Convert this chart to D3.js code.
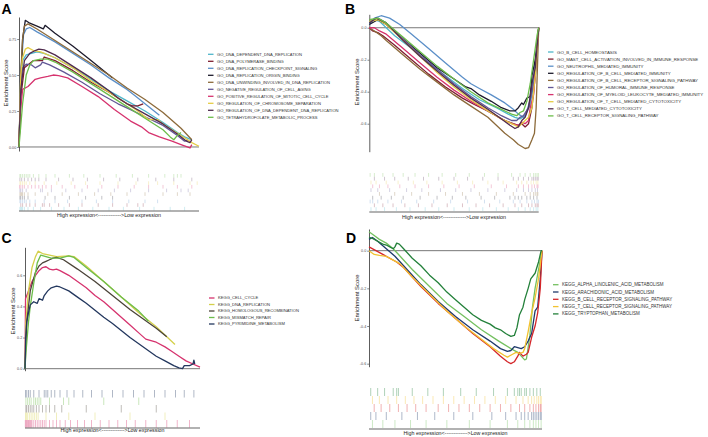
<!DOCTYPE html>
<html lang="en">
  <head>
    <meta charset="UTF-8" />
    <title>GSEA enrichment plots</title>
    <style>
      body { margin: 0; background: #fff; }
      svg { font-family: "Liberation Sans", Arial, sans-serif; }
      .zero { stroke: #555; stroke-width: 0.8; }
      .base { stroke: #222; stroke-width: 0.7; }
      .es { fill: none; stroke-width: 1.3; stroke-linejoin: round; }
      .ytitle { font-size: 5.9px; fill: #222; text-anchor: middle; }
      .xlabel { font-size: 5.3px; fill: #222; text-anchor: middle; }
      .letter { font-size: 14px; font-weight: bold; fill: #000; }
      .legend text { fill: #333; }
    </style>
  </head>
  <body>
    <svg width="708" height="437"></svg>
    <script src="https://d3js.org/d3.v7.min.js"></script>
    <script>
      const svg = d3.select("svg");
      const xDomain = [0, 100]; // gene rank, percent of list

      // ---------- panel A ----------
      const setsA = [
        "GO_DNA_DEPENDENT_DNA_REPLICATION",
        "GO_DNA_POLYMERASE_BINDING",
        "GO_DNA_REPLICATION_CHECKPOINT_SIGNALING",
        "GO_DNA_REPLICATION_ORIGIN_BINDING",
        "GO_DNA_UNWINDING_INVOLVED_IN_DNA_REPLICATION",
        "GO_NEGATIVE_REGULATION_OF_CELL_AGING",
        "GO_POSITIVE_REGULATION_OF_MITOTIC_CELL_CYCLE",
        "GO_REGULATION_OF_CHROMOSOME_SEPARATION",
        "GO_REGULATION_OF_DNA_DEPENDENT_DNA_REPLICATION",
        "GO_TETRAHYDROFOLATE_METABOLIC_PROCESS",
      ];
      const ticksA = [0, 0.25, 0.5, 0.75];
      const esA = [
        [[0,0],[1,0.45],[2,0.6],[4,0.64],[7,0.65],[10,0.66],[14,0.65],[20,0.62],[30,0.55],[40,0.47],[50,0.39],[60,0.32],[70,0.25],[80,0.17],[88,0.1],[92,0.07],[96,0.05]],
        [[0,0],[1,0.35],[3,0.55],[8,0.6],[13,0.6],[14,0.625],[20,0.6],[30,0.53],[40,0.45],[50,0.38],[55,0.34],[60,0.3],[63,0.285],[66,0.285],[69,0.3]],
        [[0,0],[1,0.5],[2.5,0.78],[4,0.82],[6,0.83],[10,0.8],[20,0.73],[30,0.65],[40,0.57],[50,0.48],[60,0.4],[65,0.35],[70,0.3],[74,0.26],[78,0.22]],
        [[0,0],[1,0.45],[2,0.75],[3.5,0.88],[6,0.86],[10,0.84],[13.5,0.82],[14.5,0.845],[20,0.79],[30,0.7],[40,0.6],[52,0.48]],
        [[0,0],[1,0.5],[2,0.75],[3,0.84],[5,0.855],[10,0.82],[20,0.74],[30,0.66],[40,0.58],[50,0.5],[60,0.41],[70,0.33],[80,0.24],[90,0.13],[96,0.05]],
        [[0,0],[1,0.45],[2,0.55],[4,0.575],[7,0.57],[9,0.55],[12,0.57],[13,0.59],[17,0.57],[25,0.52],[35,0.45],[45,0.37],[55,0.3],[62,0.26],[70,0.21],[80,0.15],[88,0.08],[92,0.04],[94,0.05]],
        [[0,0],[0.5,0.2],[2,0.4],[5,0.42],[9,0.47],[12,0.48],[16,0.49],[19,0.5],[22,0.495],[27,0.48],[35,0.42],[44,0.35],[53,0.26],[62,0.18],[68,0.14],[72,0.1],[78,0.07],[85,0.04],[90,0.016],[95,-0.007],[96,0.016]],
        [[0,0],[1,0.5],[2,0.62],[3.5,0.68],[5,0.69],[8,0.67],[12,0.66],[20,0.62],[30,0.55],[40,0.46],[50,0.38],[60,0.3],[66,0.25],[70,0.21],[72,0.19],[77,0.19],[80,0.16],[90,0.08],[96,0.03],[100,0.005]],
        [[0,0],[1,0.4],[3,0.6],[6,0.65],[9,0.67],[11,0.68],[14,0.675],[20,0.64],[30,0.56],[40,0.48],[50,0.39],[55,0.34],[60,0.3],[70,0.23],[80,0.16],[88,0.09],[93,0.04],[95,0.03],[96,0.05]],
        [[0,0],[1,0.15],[2,0.3],[3,0.4],[4,0.5],[6,0.57],[8,0.6],[12,0.61],[16,0.61],[20,0.59],[30,0.52],[40,0.44],[50,0.36],[60,0.28],[70,0.2],[80,0.12],[84,0.07],[86,0.05],[88,0.08],[90,0.1]],
      ];
      const hitsA = [
        [0.5,1,1.5,2,3,5,8,12,18,25,33,41,50,58,67,75,84,92],
        [1,2,4,6,9,13,14,17,22,28,35,44,52,60,66,69],
        [0.5,1,2,3,4,6,9,14,20,27,35,43,52,61,70,77],
        [0.5,1,2,3,5,14.5,20,28,37,46,52],
        [0.5,1,1.5,2,3,5,9,16,24,33,42,51,60,70,80,88,95],
        [0.5,1,2,4,12,13,18,26,35,44,53,62,72,82,90,94],
        [0.3,1,2,3,5,7,9,11,13,15,18,24,31,38,46,55,64,72,80,88,96],
        [0.5,1,2,3,4,6,9,14,21,29,37,45,55,65,72,77,86,95,99],
        [0.5,1.5,3,5,7,9,11,15,22,30,38,47,56,66,76,86,96],
        [0.5,1,2,3,4,5,6,8,11,15,20,28,36,45,54,63,72,81,86,88,90],
      ];

      // ---------- panel B ----------
      const setsB = [
        "GO_B_CELL_HOMEOSTASIS",
        "GO_MAST_CELL_ACTIVATION_INVOLVED_IN_IMMUNE_RESPONSE",
        "GO_NEUTROPHIL_MEDIATED_IMMUNITY",
        "GO_REGULATION_OF_B_CELL_MEDIATED_IMMUNITY",
        "GO_REGULATION_OF_B_CELL_RECEPTOR_SIGNALING_PATHWAY",
        "GO_REGULATION_OF_HUMORAL_IMMUNE_RESPONSE",
        "GO_REGULATION_OF_MYELOID_LEUKOCYTE_MEDIATED_IMMUNITY",
        "GO_REGULATION_OF_T_CELL_MEDIATED_CYTOTOXICITY",
        "GO_T_CELL_MEDIATED_CYTOTOXICITY",
        "GO_T_CELL_RECEPTOR_SIGNALING_PATHWAY",
      ];
      const ticksB = [0, -0.2, -0.4, -0.6];
      const esB = [
        [[0,0.03],[3,0.05],[6,0.04],[10,0.0],[15,-0.05],[25,-0.13],[35,-0.22],[45,-0.3],[55,-0.38],[65,-0.45],[75,-0.5],[82,-0.54],[86,-0.56],[89,-0.57],[92,-0.55],[95,-0.48],[97,-0.35],[99,-0.15],[100,0]],
        [[0,0],[2,-0.02],[5,-0.03],[8,-0.05],[15,-0.11],[25,-0.2],[35,-0.29],[45,-0.37],[55,-0.44],[62,-0.48],[68,-0.51],[75,-0.55],[80,-0.58],[85,-0.6],[88,-0.61],[90,-0.6],[92,-0.62],[94,-0.6],[96,-0.5],[98,-0.3],[100,0]],
        [[0,0.02],[3,0.06],[7,0.075],[12,0.06],[18,0.02],[25,-0.04],[35,-0.13],[45,-0.22],[55,-0.31],[60,-0.35],[65,-0.38],[72,-0.42],[80,-0.47],[85,-0.51],[88,-0.54],[91,-0.56],[93,-0.52],[95,-0.45],[97,-0.3],[98.5,-0.15],[100,0]],
        [[0,0.02],[5,0.05],[10,0.02],[20,-0.07],[30,-0.16],[40,-0.25],[50,-0.32],[57,-0.37],[60,-0.38],[65,-0.42],[72,-0.46],[78,-0.5],[83,-0.52],[86,-0.52],[88,-0.5],[90,-0.47],[91,-0.48],[93,-0.44],[95,-0.43],[96,-0.3],[98,-0.2],[100,0]],
        [[0,0],[3,-0.02],[7,-0.05],[10,-0.08],[20,-0.17],[30,-0.26],[40,-0.34],[50,-0.42],[60,-0.49],[70,-0.56],[75,-0.61],[80,-0.66],[85,-0.7],[88,-0.73],[92,-0.755],[94,-0.75],[96,-0.7],[97.5,-0.66],[98.5,-0.5],[100,0]],
        [[0,0.04],[5,0.06],[10,0.03],[20,-0.07],[30,-0.17],[40,-0.26],[50,-0.35],[60,-0.43],[70,-0.5],[78,-0.55],[84,-0.58],[87,-0.58],[89,-0.56],[91,-0.55],[94,-0.5],[96,-0.4],[98,-0.3],[100,0]],
        [[0,0],[3,0],[6,-0.02],[10,-0.04],[20,-0.13],[30,-0.22],[40,-0.31],[50,-0.39],[60,-0.46],[70,-0.52],[78,-0.57],[84,-0.6],[88,-0.61],[90,-0.59],[92,-0.6],[94,-0.58],[95,-0.5],[97,-0.42],[98.5,-0.2],[100,0]],
        [[0,0.04],[5,0.05],[10,0.02],[20,-0.08],[30,-0.18],[40,-0.28],[50,-0.37],[60,-0.45],[70,-0.52],[78,-0.57],[84,-0.6],[88,-0.62],[90,-0.6],[92,-0.58],[94,-0.56],[96,-0.5],[98,-0.3],[100,0]],
        [[0,0.03],[4,0.06],[10,0.03],[20,-0.08],[30,-0.18],[40,-0.27],[50,-0.36],[60,-0.44],[70,-0.51],[78,-0.57],[83,-0.61],[86,-0.63],[88,-0.62],[90,-0.58],[92,-0.56],[94,-0.5],[96,-0.35],[98,-0.25],[100,0]],
        [[0,0.05],[5,0.06],[10,0.03],[20,-0.06],[30,-0.15],[40,-0.24],[50,-0.32],[60,-0.4],[70,-0.47],[78,-0.51],[84,-0.54],[87,-0.55],[89,-0.53],[91,-0.52],[93,-0.46],[95,-0.35],[97,-0.2],[99,-0.05],[100,0]],
      ];
      const hitsB = [
        [1,4,9,16,24,33,41,50,59,67,75,82,88,92,95,97,98.5,99.5],
        [3,8,14,21,29,37,46,55,63,71,79,86,90,94,96,98,99,99.7],
        [0.5,2,5,11,19,28,38,48,58,68,77,85,89,93,96,97.5,99,99.8],
        [2,7,13,20,30,40,49,57,66,74,83,86,88,90,93,95,97,99],
        [6,15,25,35,45,55,65,75,85,92,95,97,98,99,99.5],
        [1,5,12,22,31,42,51,60,70,80,87,91,94,96,98,99.3],
        [2,6,11,18,27,35,44,53,62,72,81,88,91,94,96,97.5,99,99.6],
        [1,4,10,17,26,34,43,52,61,70,79,87,90,93,95.5,97,98.5,99.5],
        [3,9,15,23,32,41,50,58,67,76,85,88,91,94,96,97,98,99,99.7],
        [0.5,3,8,14,20,27,35,43,51,59,68,76,84,89,92,95,97,98,99,99.8],
      ];

      // ---------- panel C ----------
      const setsC = [
        "KEGG_CELL_CYCLE",
        "KEGG_DNA_REPLICATION",
        "KEGG_HOMOLOGOUS_RECOMBINATION",
        "KEGG_MISMATCH_REPAIR",
        "KEGG_PYRIMIDINE_METABOLISM",
      ];
      const ticksC = [0, 0.2, 0.4, 0.6];
      const esC = [
        [[0,0],[0.3,0.45],[2,0.5],[4,0.56],[6,0.6],[8,0.63],[10,0.65],[12,0.655],[14,0.64],[16,0.635],[18,0.64],[20,0.63],[25,0.6],[30,0.56],[35,0.52],[40,0.47],[45,0.43],[50,0.38],[55,0.33],[60,0.28],[65,0.23],[69,0.19],[72,0.18],[75,0.17],[80,0.14],[84,0.11],[88,0.08],[92,0.05],[96,0.03],[100,0.01]],
        [[0,0],[0.5,0.3],[2,0.5],[4,0.65],[6,0.72],[7.5,0.755],[10,0.74],[14,0.73],[18,0.72],[25,0.725],[28,0.72],[35,0.66],[45,0.56],[55,0.46],[65,0.36],[75,0.27],[85.7,0.155]],
        [[0,0],[1,0.3],[3,0.5],[6,0.62],[8,0.66],[10,0.68],[12,0.69],[14,0.7],[16,0.71],[18,0.715],[22,0.7],[30,0.64],[40,0.56],[50,0.47],[60,0.38],[70,0.3],[75,0.26],[81,0.205]],
        [[0,0],[0.5,0.1],[2,0.3],[3,0.4],[5,0.55],[7,0.68],[9,0.73],[12,0.72],[15,0.71],[20,0.71],[25,0.725],[28,0.715],[35,0.65],[45,0.56],[55,0.46],[65,0.37],[70.5,0.305]],
        [[0,0],[0.4,0.2],[1,0.3],[2,0.36],[3,0.41],[5,0.43],[7,0.42],[8,0.45],[10,0.44],[11,0.47],[13,0.5],[15,0.52],[18,0.53],[20,0.525],[25,0.5],[30,0.46],[35,0.42],[40,0.375],[45,0.33],[50,0.29],[55,0.245],[60,0.2],[65,0.16],[70,0.12],[75,0.08],[80,0.05],[85,0.02],[88,0.005],[90,0],[91,0.02],[94,0.02],[96,0.03],[96.5,0.055],[97,0.03]],
      ];
      const hitsC = [
        [0.2,0.6,1,1.5,2,2.5,3,3.5,4,5,6,7,8,9,10,11,12,14,16,18,20,23,26,30,34,38,43,48,53,58,63,69,75,81,87,94],
        [0.3,0.8,1.5,2.5,3.5,4.5,5.5,6.5,7.5,12,18,25,40,60,80],
        [0.5,1,2,3,4,5,6.5,8,10,12,14,17,21,35,55,75],
        [0.5,1.5,2.5,3.5,5,6,7,8,9,14,22,25,45,65],
        [0.3,1,2,3,5,8,11,12,13,15,17,20,24,28,33,38,44,50,56,62,68,74,80,86,91,96.5],
      ];

      // ---------- panel D ----------
      const setsD = [
        "KEGG_ALPHA_LINOLENIC_ACID_METABOLISM",
        "KEGG_ARACHIDONIC_ACID_METABOLISM",
        "KEGG_B_CELL_RECEPTOR_SIGNALING_PATHWAY",
        "KEGG_T_CELL_RECEPTOR_SIGNALING_PATHWAY",
        "KEGG_TRYPTOPHAN_METABOLISM",
      ];
      const ticksD = [0, -0.2, -0.4, -0.6];
      const esD = [
        [[0,0.1],[3,0.08],[6,0.06],[10,0.04],[14,0.01],[18,-0.03],[25,-0.1],[35,-0.19],[45,-0.28],[55,-0.35],[65,-0.42],[75,-0.48],[82,-0.52],[86,-0.54],[88,-0.56],[90,-0.58],[91,-0.575],[93,-0.45],[94.5,-0.3],[96,-0.2],[98,-0.1],[100,0]],
        [[0,0.06],[2,0.07],[5,0.05],[10,0.01],[15,-0.03],[20,-0.08],[30,-0.18],[40,-0.27],[50,-0.35],[60,-0.42],[70,-0.48],[76,-0.52],[80,-0.535],[82,-0.53],[84,-0.51],[86,-0.515],[88,-0.52],[90,-0.51],[92,-0.48],[94,-0.44],[96,-0.32],[97.5,-0.3],[99,-0.15],[100,0]],
        [[0,0.02],[4,0],[8,-0.02],[12,-0.04],[16,-0.06],[20,-0.09],[30,-0.19],[40,-0.28],[50,-0.36],[60,-0.44],[70,-0.51],[76,-0.56],[80,-0.59],[82,-0.6],[84,-0.59],[86,-0.56],[87,-0.54],[89,-0.56],[91,-0.55],[92,-0.54],[94,-0.46],[96,-0.4],[97.5,-0.33],[99,-0.2],[100,0]],
        [[0,0],[3,-0.02],[6,-0.025],[10,-0.03],[14,-0.05],[18,-0.07],[25,-0.14],[35,-0.23],[45,-0.32],[55,-0.4],[65,-0.47],[72,-0.52],[78,-0.555],[80,-0.565],[83,-0.55],[85,-0.54],[87,-0.545],[89,-0.54],[90,-0.52],[92,-0.43],[94,-0.33],[96,-0.25],[98,-0.15],[100,0]],
        [[0,0.07],[2,0.065],[5,0.05],[8,0.035],[10,0.03],[12,0.02],[14,0.01],[15,0.02],[16,0.04],[17.5,0.035],[20,0.01],[25,-0.04],[30,-0.08],[35,-0.13],[40,-0.17],[45,-0.22],[50,-0.26],[55,-0.3],[60,-0.34],[65,-0.37],[70,-0.39],[73,-0.41],[76,-0.42],[79,-0.44],[82,-0.455],[84,-0.45],[85.5,-0.41],[87,-0.34],[89,-0.3],[90,-0.26],[92,-0.2],[93.5,-0.15],[96,-0.12],[98,-0.06],[99.5,0],[100,0]],
      ];
      const hitsD = [
        [2,8,15,24,33,45,58,70,80,86,90,93,95,96.5,98,99.5],
        [1,4,10,19,28,38,49,60,71,79,85,88,90,92,94,95,96,97,98,99,99.6],
        [3,7,12,17,22,27,33,40,46,52,58,64,70,76,82,87,90,93,95,96.5,98,99,99.5],
        [2,6,11,16,21,26,31,37,43,49,55,61,67,73,79,85,89,92,94,95.5,97,98,99,99.6],
        [1,5,9,14,16,17,25,34,43,53,62,72,80,84,86,87,88,90,91,93,95,97,99],
      ];

      const colorsGO = ["#4fb6ca", "#7e1e2f", "#5b8fc8", "#1c1a2b", "#8c6a3a", "#625796", "#d6336e", "#e5cc45", "#502b4e", "#6cbd4a"];
      const colorsC = ["#d6336e", "#d4d04a", "#4b4338", "#6cbd4a", "#23375e"];
      const colorsD = ["#74c060", "#1f3a6b", "#d4262a", "#f2c230", "#23803a"];

      const panels = [
        { letter: "A", lx: 1.5, ly: 14, sets: setsA, es: esA, hits: hitsA, colors: colorsGO, ticks: ticksA, digits: 2,
          x0: 19, x1: 199, yDom: [-0.028, 0.903], yRange: [151, 17], rug: [174, 210.5], base: 211, labelY: 217,
          titleX: 7.5, titleY: 83, legX: 208, legY: 54.3, legStep: 7, legFont: 4.1, rugAlpha: 0.45 },
        { letter: "B", lx: 345, ly: 14, sets: setsB, es: esB, hits: hitsB, colors: colorsGO, ticks: ticksB, digits: 1,
          x0: 369.3, x1: 538.7, yDom: [-0.775, 0.084], yRange: [151.7, 14.3], rug: [173, 211], base: 212, labelY: 218.5,
          titleX: 358.5, titleY: 82, legX: 548, legY: 52, legStep: 7.1, legFont: 4.4, rugAlpha: 0.45 },
        { letter: "C", lx: 1.5, ly: 243, sets: setsC, es: esC, hits: hitsC, colors: colorsC, ticks: ticksC, digits: 1,
          x0: 25, x1: 200, yDom: [-0.013, 0.78], yRange: [370.7, 247.3], rug: [390, 427.5], base: 428, labelY: 432,
          titleX: 15, titleY: 311, legX: 209, legY: 298, legStep: 6.5, legFont: 4.1, rugAlpha: 0.6 },
        { letter: "D", lx: 346, ly: 243, sets: setsD, es: esD, hits: hitsD, colors: colorsD, ticks: ticksD, digits: 1,
          x0: 369, x1: 542, yDom: [-0.616, 0.115], yRange: [366.7, 229], rug: [388, 428], base: 429, labelY: 435,
          titleX: 358.5, titleY: 298, legX: 553, legY: 284.7, legStep: 7.3, legFont: 4.5, rugAlpha: 0.6 },
      ];

      function drawPanel(p) {
        const x = d3.scaleLinear().domain(xDomain).range([p.x0, p.x1]);
        const y = d3.scaleLinear().domain(p.yDom).range(p.yRange);
        const g = svg.append("g");

        g.append("line").attr("class", "zero")
          .attr("x1", x(0)).attr("x2", x(100)).attr("y1", y(0)).attr("y2", y(0));

        const axis = d3.axisLeft(y).tickValues(p.ticks).tickSize(1.8).tickSizeOuter(0)
          .tickPadding(1).tickFormat((d) => d.toFixed(p.digits));
        const ax = g.append("g").attr("transform", `translate(${p.x0},0)`).call(axis)
          .attr("font-size", 3.7).attr("font-family", null);
        ax.select(".domain").attr("stroke", "#333").attr("stroke-width", 0.8);
        ax.selectAll(".tick line").attr("stroke", "#333").attr("stroke-width", 0.6);
        ax.selectAll(".tick text").attr("fill", "#4d4d4d");

        g.append("text").attr("class", "ytitle")
          .attr("transform", `translate(${p.titleX},${p.titleY}) rotate(-90)`)
          .text("Enrichment Score");

        const line = d3.line().x((d) => x(d[0])).y((d) => y(d[1]));
        g.append("g").selectAll("path").data(p.es).join("path")
          .attr("class", "es").attr("d", line).attr("stroke", (d, i) => p.colors[i]);

        // rug of hits, first gene set at the bottom row
        const n = p.hits.length;
        const rowH = (p.rug[1] - p.rug[0]) / n;
        const rug = g.append("g");
        p.hits.forEach((hs, i) => {
          const top = p.rug[0] + (n - 1 - i) * rowH;
          rug.append("g").selectAll("line").data(hs).join("line")
            .attr("x1", (d) => x(d)).attr("x2", (d) => x(d))
            .attr("y1", top).attr("y2", top + rowH)
            .attr("stroke", p.colors[i]).attr("stroke-width", 0.6).attr("stroke-opacity", p.rugAlpha);
        });

        g.append("line").attr("class", "base")
          .attr("x1", x(0)).attr("x2", x(100)).attr("y1", p.base).attr("y2", p.base);
        g.append("text").attr("class", "xlabel")
          .attr("x", (x(0) + x(100)) / 2).attr("y", p.labelY)
          .text("High expression<------------->Low expression");

        const leg = g.append("g").attr("class", "legend");
        const item = leg.selectAll("g").data(p.sets).join("g")
          .attr("transform", (d, i) => `translate(${p.legX},${p.legY + i * p.legStep})`);
        item.append("line").attr("x1", 0).attr("x2", 5.5).attr("y1", 0).attr("y2", 0)
          .attr("stroke", (d, i) => p.colors[i]).attr("stroke-width", 1.3);
        item.append("text").attr("x", 9).attr("y", 0).attr("dy", "0.35em")
          .attr("font-size", p.legFont).text((d) => d);

        svg.append("text").attr("class", "letter").attr("x", p.lx).attr("y", p.ly).text(p.letter);
      }

      panels.forEach(drawPanel);
    </script>
  </body>
</html>
